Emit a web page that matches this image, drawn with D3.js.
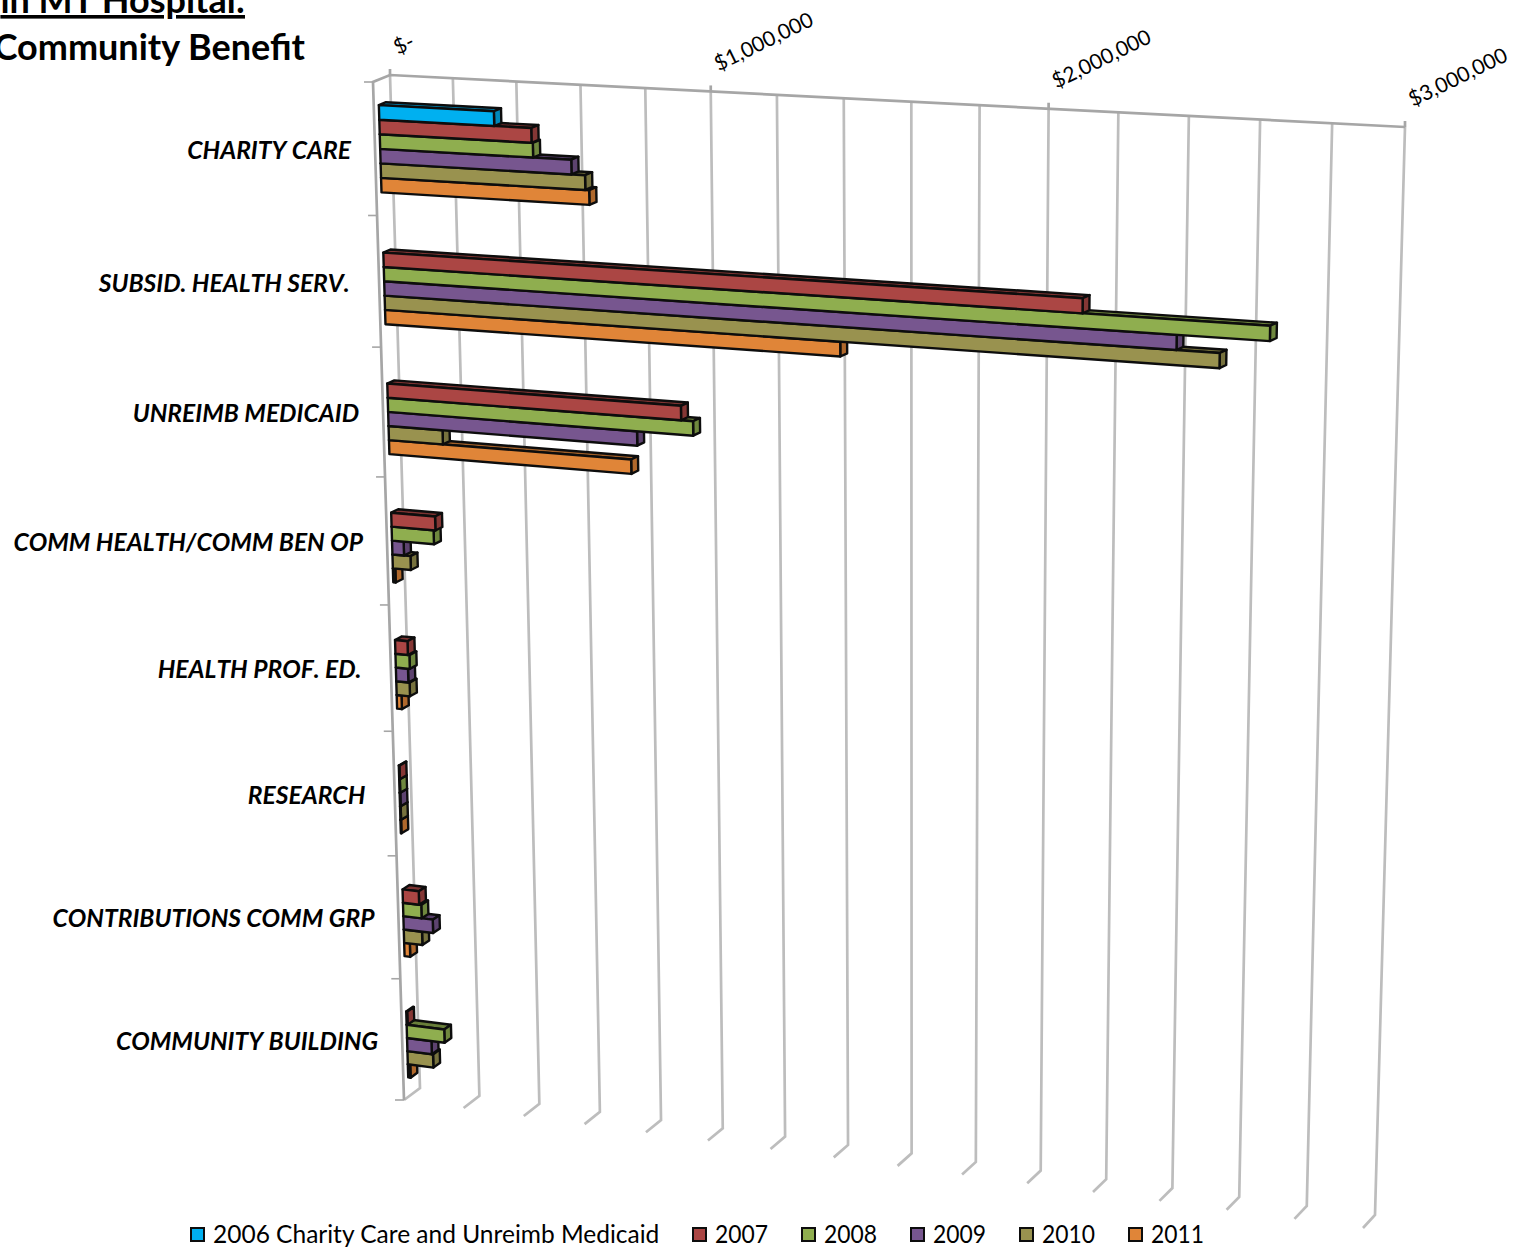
<!DOCTYPE html>
<html>
<head>
<meta charset="utf-8">
<script src="https://cdn.jsdelivr.net/npm/d3@7"></script>
<style>
  html, body { margin: 0; padding: 0; background: #fff; }
  svg { display: block; }
  text { font-family: Lato, "Open Sans", sans-serif; fill: #000; }
</style>
</head>
<body>
<svg id="viz_area" width="1523" height="1250"></svg>
<script>
const categories = ['CHARITY CARE', 'SUBSID. HEALTH SERV. ', 'UNREIMB MEDICAID', 'COMM HEALTH/COMM BEN OP',
  'HEALTH PROF. ED. ', 'RESEARCH ', 'CONTRIBUTIONS COMM GRP', 'COMMUNITY BUILDING']

const seriesNames = ['2006 Charity Care and Unreimb Medicaid', '2007', '2008', '2009', '2010', '2011']
const seriesColors = ['#00b0f0', '#ab4644', '#8fae4f', '#77568f', '#99924f', '#e08538']

const values2006 = [365000, null, null, null, null, null, null, null]
const values2007 = [481000, 2136000, 932000, 143000, 41000, 2000, 54000, 3000]
const values2008 = [485000, 2671000, 969000, 137000, 46000, 2000, 61000, 126000]
const values2009 = [604000, 2407000, 794000, 38000, 40000, 2000, 98000, 82000]
const values2010 = [646000, 2530000, 175000, 59000, 44000, 2000, 61000, 86000]
const values2011 = [658000, 1421000, 774000, 8000, 16000, 2000, 19000, 8000]
const seriesValues = [values2006, values2007, values2008, values2009, values2010, values2011]

const gridValues = d3.range(0, 3000001, 200000)
const tickValues = [0, 1000000, 2000000, 3000000]
const tickLabels = ['$-', '$1,000,000', '$2,000,000', '$3,000,000']

// corners of the tilted chart box: top-left, top-right, bottom-right, bottom-left
const backWall = [[390, 75], [1405, 127], [1375, 1215], [420, 1088]]
const frontWall = [[373, 82], [1388, 134], [1363, 1228], [404, 1100]]
const barDepth = [0.3, 0.72]

const xScale = d3.scaleLinear().domain([0, 3000000]).range([0, 1])
const yScale = d3.scaleBand().domain(categories).range([0, 1])
const slotScale = d3.scaleBand().domain(seriesNames)
  .range([0.188 * yScale.bandwidth(), 0.842 * yScale.bandwidth()])

// homography from the unit square onto a four sided shape
function quadMapper(q) {
  const [[x0, y0], [x1, y1], [x2, y2], [x3, y3]] = q
  const dx1 = x1 - x2, dx2 = x3 - x2, sx = x0 - x1 + x2 - x3
  const dy1 = y1 - y2, dy2 = y3 - y2, sy = y0 - y1 + y2 - y3
  const det = dx1 * dy2 - dx2 * dy1
  const g = (sx * dy2 - dx2 * sy) / det
  const h = (dx1 * sy - sx * dy1) / det
  const a = x1 - x0 + g * x1, b = x3 - x0 + h * x3
  const d = y1 - y0 + g * y1, e = y3 - y0 + h * y3
  return function (u, v) {
    const w = g * u + h * v + 1
    return [(a * u + b * v + x0) / w, (d * u + e * v + y0) / w]
  }
}

const backMap = quadMapper(backWall)
const frontMap = quadMapper(frontWall)

// depth 0 is the front of the box, depth 1 the back wall
function project(value, v, depth) {
  const u = xScale(value)
  const f = frontMap(u, v)
  const b = backMap(u, v)
  return [f[0] + (b[0] - f[0]) * depth, f[1] + (b[1] - f[1]) * depth]
}

function pointsAttr(points) {
  return points.map(function (p) { return p[0].toFixed(2) + ',' + p[1].toFixed(2) }).join(' ')
}

const svg = d3.select('#viz_area')

function drawTitle() {
  svg.append('text')
    .attr('x', 245).attr('y', 13)
    .attr('text-anchor', 'end')
    .attr('font-size', 36).attr('font-weight', 700)
    .attr('text-decoration', 'underline')
    .text('in MT Hospital:')

  svg.append('text')
    .attr('x', 305).attr('y', 60)
    .attr('text-anchor', 'end')
    .attr('font-size', 36).attr('font-weight', 700)
    .text('Community Benefit')
}

function drawGrid() {
  const g = svg.append('g')
    .attr('fill', 'none')
    .attr('stroke', '#bdbdbd')
    .attr('stroke-width', 2.7)

  g.selectAll('path.grid')
    .data(gridValues)
    .enter()
    .append('path')
    .attr('class', 'grid')
    .attr('d', function (d) {
      return d3.line()([project(d, 0, 1), project(d, 1, 1), project(d, 1, 0)])
    })

  const axisColor = '#a6a6a6'

  // top edge of the back wall and the left side of the box
  g.append('path')
    .attr('stroke', axisColor)
    .attr('d', d3.line()([project(0, 1, 0), project(0, 0, 0), project(0, 0, 1), project(3000000, 0, 1)]))

  // category tick marks on the left edge
  g.selectAll('path.catTick')
    .data(d3.range(0, categories.length + 1))
    .enter()
    .append('path')
    .attr('class', 'catTick')
    .attr('stroke', axisColor)
    .attr('stroke-width', 1.6)
    .attr('d', function (i) {
      const p = project(0, i / categories.length, 0)
      return d3.line()([[p[0] - 9, p[1]], p])
    })

  g.selectAll('path.valueTick')
    .data(tickValues)
    .enter()
    .append('path')
    .attr('class', 'valueTick')
    .attr('stroke', axisColor)
    .attr('d', function (d) {
      const p = project(d, 0, 1)
      return d3.line()([p, [p[0], p[1] - 6]])
    })
}

function drawValueLabels() {
  svg.selectAll('text.valueLabel')
    .data(tickValues)
    .enter()
    .append('text')
    .attr('class', 'valueLabel')
    .attr('font-size', 21)
    .attr('transform', function (d) {
      const p = project(d, 0, 1)
      return 'translate(' + (p[0] + 8) + ',' + (p[1] - 20) + ') rotate(-26)'
    })
    .text(function (d, i) { return tickLabels[i] })
}

function drawCategoryLabels() {
  svg.selectAll('text.catLabel')
    .data(categories)
    .enter()
    .append('text')
    .attr('class', 'catLabel')
    .attr('font-size', 24.6)
    .attr('font-style', 'italic')
    .attr('font-weight', 700)
    .attr('text-anchor', 'end')
    .style('white-space', 'pre')
    .style('font-kerning', 'none')
    .attr('x', function (d) {
      return project(0, yScale(d) + yScale.bandwidth() / 2, 0)[0] - 24
    })
    .attr('y', function (d) {
      return project(0, yScale(d) + yScale.bandwidth() / 2, 0)[1] + 10
    })
    .text(function (d) { return d })
}

function drawBars() {
  const bars = []
  categories.forEach(function (cat, c) {
    seriesNames.forEach(function (name, s) {
      const value = seriesValues[s][c]
      if (value !== null) bars.push({ cat: cat, name: name, value: value, color: seriesColors[s] })
    })
  })

  // lower bars go first so each bar hides the top face of the one below it
  bars.reverse()

  const groups = svg.selectAll('g.bar')
    .data(bars)
    .enter()
    .append('g')
    .attr('class', 'bar')
    .attr('stroke', '#0d0d0d')
    .attr('stroke-width', 2.4)
    .attr('stroke-linejoin', 'round')

  function edges(d) {
    const top = yScale(d.cat) + slotScale(d.name)
    return { top: top, bottom: top + slotScale.bandwidth() }
  }

  // top face
  groups.append('polygon')
    .attr('fill', function (d) { return d3.color(d.color).darker(0.9) })
    .attr('points', function (d) {
      const e = edges(d)
      return pointsAttr([project(0, e.top, barDepth[0]), project(d.value, e.top, barDepth[0]),
        project(d.value, e.top, barDepth[1]), project(0, e.top, barDepth[1])])
    })

  // right end
  groups.append('polygon')
    .attr('fill', function (d) { return d3.color(d.color).darker(0.7) })
    .attr('points', function (d) {
      const e = edges(d)
      return pointsAttr([project(d.value, e.top, barDepth[0]), project(d.value, e.top, barDepth[1]),
        project(d.value, e.bottom, barDepth[1]), project(d.value, e.bottom, barDepth[0])])
    })

  // front face
  groups.append('polygon')
    .attr('fill', function (d) { return d.color })
    .attr('points', function (d) {
      const e = edges(d)
      return pointsAttr([project(0, e.top, barDepth[0]), project(d.value, e.top, barDepth[0]),
        project(d.value, e.bottom, barDepth[0]), project(0, e.bottom, barDepth[0])])
    })
}

function drawLegend() {
  const legendX = d3.scaleOrdinal().domain(seriesNames).range([191, 693, 802, 911, 1020, 1129])

  const items = svg.selectAll('g.legendItem')
    .data(seriesNames)
    .enter()
    .append('g')
    .attr('class', 'legendItem')
    .attr('transform', function (d) { return 'translate(' + legendX(d) + ',1234.5)' })

  items.append('rect')
    .attr('x', 0).attr('y', -6.5)
    .attr('width', 13).attr('height', 13)
    .attr('stroke', '#0d0d0d').attr('stroke-width', 2)
    .attr('fill', function (d, i) { return seriesColors[i] })

  items.append('text')
    .attr('x', 22).attr('y', 8.5)
    .attr('font-size', 24.5)
    .each(function (d, i) {
      // the year labels run a little narrower than the font's digits
      if (i > 0) d3.select(this).attr('textLength', 53).attr('lengthAdjust', 'spacingAndGlyphs')
    })
    .text(function (d) { return d })
}

drawGrid()
drawBars()
drawValueLabels()
drawCategoryLabels()
drawTitle()
drawLegend()
</script>
</body>
</html>
